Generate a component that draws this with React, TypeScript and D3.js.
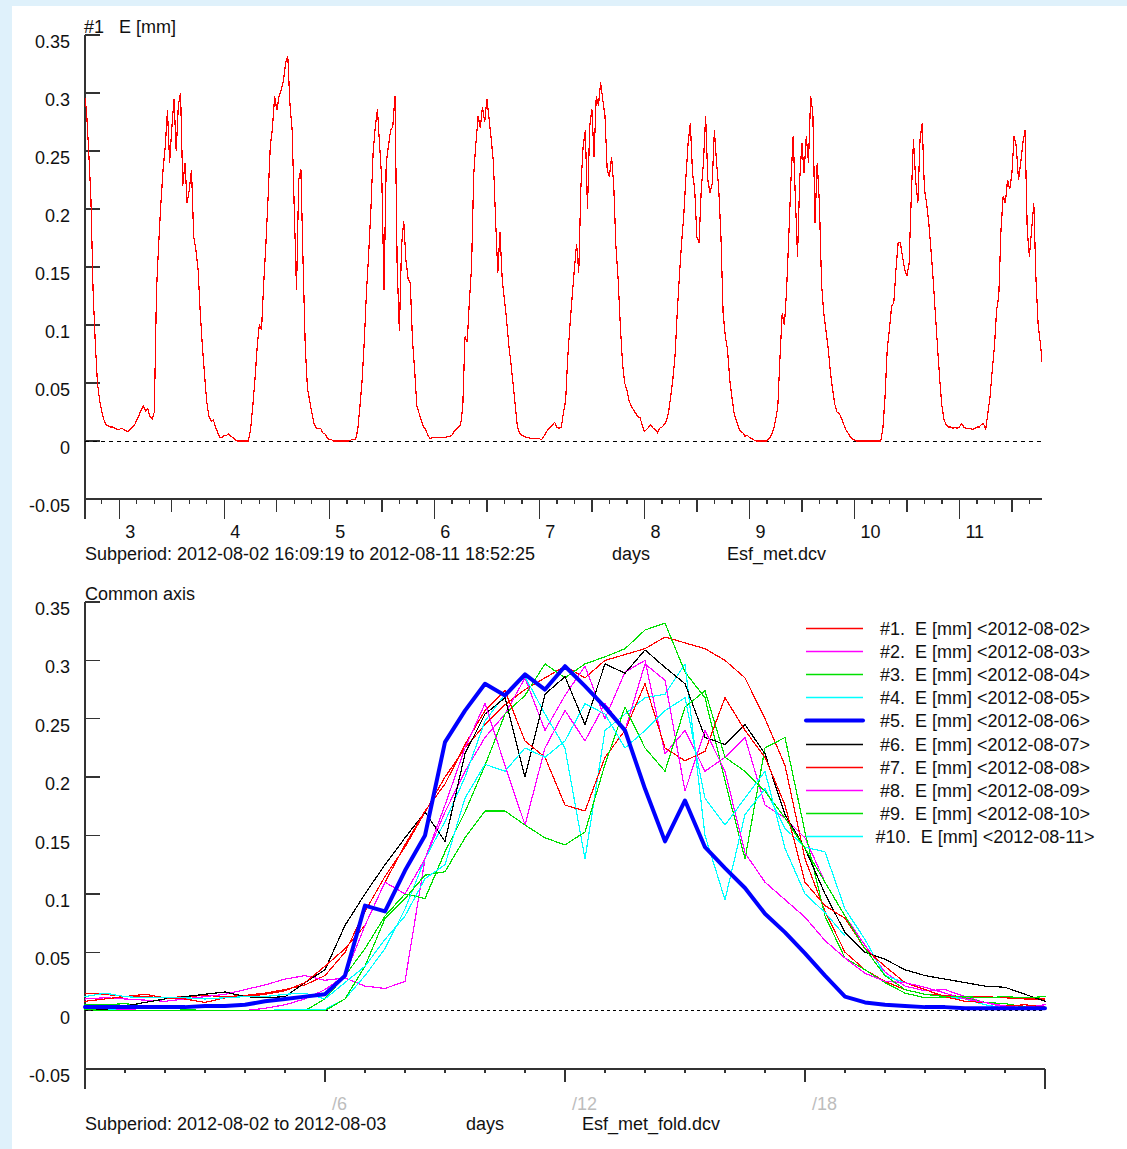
import React from 'react';
import * as d3 from 'd3';

// ---------- data ----------
const DAY_LABELS = ['2012-08-02', '2012-08-03', '2012-08-04', '2012-08-05', '2012-08-06', '2012-08-07', '2012-08-08', '2012-08-09', '2012-08-10', '2012-08-11'];
const DAY_NUMBERS = [2, 3, 4, 5, 6, 7, 8, 9, 10, 11];
const SERIES_COLORS = ['#ff0000', '#ff00ff', '#00e000', '#00ffff', '#0000ff', '#000000', '#ff0000', '#ff00ff', '#00e000', '#00ffff'];
const SERIES_WIDTHS = [1, 1, 1, 1, 4, 1, 1, 1, 1, 1];
// half-hourly time of day (hours)
const HOURS = [0, 0.5, 1, 1.5, 2, 2.5, 3, 3.5, 4, 4.5, 5, 5.5, 6, 6.5, 7, 7.5, 8, 8.5, 9, 9.5, 10, 10.5, 11, 11.5, 12, 12.5, 13, 13.5, 14, 14.5, 15, 15.5, 16, 16.5, 17, 17.5, 18, 18.5, 19, 19.5, 20, 20.5, 21, 21.5, 22, 22.5, 23, 23.5];

const E1 = [0.015, 0.014, 0.012, 0.012, 0.011, 0.012, 0.013, 0.012, 0.013, 0.015, 0.018, 0.022, 0.03, 0.05, 0.085, 0.115, 0.14, 0.17, 0.2, 0.225, 0.245, 0.262, 0.275, 0.285, 0.295, 0.285, 0.3, 0.305, 0.31, 0.32, 0.315, 0.31, 0.3, 0.285, 0.25, 0.21, 0.13, 0.085, 0.05, 0.035, 0.025, 0.018, 0.014, 0.013, 0.012, 0.012, 0.011, 0.01];
const E2 = [0.01, 0.011, 0.01, 0.009, 0.008, 0.01, 0.012, 0.014, 0.018, 0.022, 0.027, 0.03, 0.026, 0.028, 0.021, 0.019, 0.025, 0.13, 0.17, 0.205, 0.234, 0.254, 0.285, 0.24, 0.27, 0.295, 0.25, 0.29, 0.3, 0.22, 0.24, 0.205, 0.217, 0.234, 0.176, 0.165, 0.148, 0.11, 0.081, 0.056, 0.033, 0.021, 0.017, 0.018, 0.012, 0.007, 0.003, 0.003];
const E3 = [0.005, 0.005, 0.006, 0.004, 0.003, 0.001, 0, 0, 0, 0, 0, 0, 0.01, 0.03, 0.053, 0.081, 0.1, 0.096, 0.136, 0.17, 0.21, 0.254, 0.27, 0.297, 0.285, 0.297, 0.303, 0.31, 0.326, 0.332, 0.29, 0.268, 0.197, 0.13, 0.225, 0.234, 0.153, 0.081, 0.045, 0.035, 0.024, 0.015, 0.011, 0.011, 0.011, 0.007, 0.006, 0.003];
const E4 = [0.001, 0.001, 0, 0, 0, 0, 0, 0, 0, 0, 0.001, 0.001, 0.001, 0.01, 0.03, 0.053, 0.087, 0.13, 0.162, 0.2, 0.248, 0.271, 0.286, 0.254, 0.225, 0.13, 0.24, 0.254, 0.268, 0.271, 0.297, 0.15, 0.095, 0.168, 0.19, 0.156, 0.14, 0.136, 0.087, 0.061, 0.03, 0.024, 0.018, 0.012, 0.01, 0.005, 0.002, 0.003];
const E5 = [0.003, 0.003, 0.003, 0.003, 0.003, 0.003, 0.004, 0.004, 0.005, 0.008, 0.01, 0.012, 0.014, 0.03, 0.09, 0.085, 0.12, 0.15, 0.23, 0.257, 0.28, 0.27, 0.288, 0.275, 0.295, 0.278, 0.26, 0.24, 0.19, 0.145, 0.18, 0.14, 0.122, 0.105, 0.083, 0.067, 0.049, 0.03, 0.012, 0.007, 0.005, 0.004, 0.003, 0.003, 0.002, 0.002, 0.002, 0.002];
const E6 = [0.002, 0.001, 0.004, 0.007, 0.01, 0.012, 0.014, 0.016, 0.012, 0.011, 0.012, 0.024, 0.035, 0.073, 0.1, 0.125, 0.148, 0.17, 0.145, 0.22, 0.254, 0.268, 0.2, 0.271, 0.286, 0.245, 0.297, 0.289, 0.309, 0.294, 0.28, 0.234, 0.228, 0.245, 0.22, 0.168, 0.139, 0.1, 0.067, 0.05, 0.044, 0.035, 0.03, 0.027, 0.024, 0.021, 0.02, 0.014];
const E7 = [0.008, 0.01, 0.012, 0.014, 0.011, 0.01, 0.007, 0.011, 0.012, 0.014, 0.017, 0.024, 0.038, 0.053, 0.073, 0.11, 0.142, 0.171, 0.194, 0.228, 0.257, 0.274, 0.231, 0.217, 0.176, 0.171, 0.217, 0.24, 0.28, 0.225, 0.214, 0.222, 0.268, 0.24, 0.217, 0.176, 0.11, 0.09, 0.079, 0.053, 0.038, 0.024, 0.018, 0.012, 0.008, 0.007, 0.004, 0.005];
const E8 = [0.003, 0.002, 0.001, 0, 0, 0, 0, 0, 0, 0.002, 0.005, 0.01, 0.018, 0.03, 0.073, 0.11, 0.1, 0.13, 0.176, 0.225, 0.263, 0.21, 0.159, 0.225, 0.257, 0.231, 0.263, 0.24, 0.297, 0.283, 0.188, 0.24, 0.205, 0.135, 0.11, 0.095, 0.08, 0.06, 0.045, 0.032, 0.025, 0.024, 0.02, 0.015, 0.01, 0.007, 0.004, 0.002];
const E9 = [0.001, 0, 0, 0, 0, 0, 0, 0, 0, 0, 0, 0, 0, 0.01, 0.038, 0.079, 0.096, 0.116, 0.119, 0.148, 0.171, 0.171, 0.159, 0.148, 0.142, 0.153, 0.211, 0.26, 0.225, 0.205, 0.26, 0.274, 0.217, 0.205, 0.188, 0.165, 0.139, 0.11, 0.081, 0.053, 0.03, 0.018, 0.014, 0.012, 0.012, 0.011, 0.012, 0.011];
const E10 = [0.012, 0.015, 0.012, 0.011, 0.011, 0.011, 0.01, 0.011, 0.012, 0.012, 0.014, 0.015, 0.01, 0.024, 0.038, 0.061, 0.081, 0.113, 0.125, 0.182, 0.211, 0.205, 0.225, 0.217, 0.231, 0.263, 0.254, 0.225, 0.24, 0.257, 0.268, 0.182, 0.159, 0.182, 0.205, 0.139, 0.1, 0.084, 0.064, null, null, null, null, null, null, null, null, null];

const SERIES: (number | null)[][] = [E1, E2, E3, E4, E5, E6, E7, E8, E9, E10];

const Y_TICKS = [0.35, 0.3, 0.25, 0.2, 0.15, 0.1, 0.05, 0, -0.05];
const TOP_DAY_TICKS = [3, 4, 5, 6, 7, 8, 9, 10, 11];
const FOLD_LABEL_HOURS = [6, 12, 18];

// subperiod of the top chart: 2012-08-02 16:09:19 to 2012-08-11 18:52:25 (day-of-month)
const START = 2 + (16 + 9 / 60 + 19 / 3600) / 24;
const END = 11 + (18 + 52 / 60 + 25 / 3600) / 24;

const FONT = '"Liberation Sans", Arial, sans-serif';

const fmt = (v: number) => String(+v.toFixed(2));

export default function App() {
  // ---------- top chart scales ----------
  const xTop = d3.scaleLinear().domain([START, END]).range([85, 1042]);
  const yTop = d3.scaleLinear().domain([-0.05, 0.35]).range([499, 35]);

  const topPts: [number, number][] = [];
  SERIES.forEach((vals, k) => {
    vals.forEach((v, i) => {
      if (v == null) return;
      const t = DAY_NUMBERS[k] + HOURS[i] / 24;
      if (t < START - 1 / 48) return;
      topPts.push([t, v]);
    });
  });
  const topLine = d3.line<[number, number]>().x(d => xTop(d[0])).y(d => yTop(d[1]));

  // 4-hour ticks
  const topTicks: { x: number; len: number }[] = [];
  for (let n = Math.ceil(START * 6); n / 6 <= END; n++) {
    const t = n / 6;
    const r = ((n % 6) + 6) % 6;
    const len = r === 0 ? 20 : r === 3 ? 13 : 5;
    topTicks.push({ x: xTop(t), len });
  }

  // ---------- bottom chart scales ----------
  const xBot = d3.scaleLinear().domain([0, 24]).range([85, 1045]);
  const yBot = d3.scaleLinear().domain([-0.05, 0.35]).range([1069, 602]);
  const botLine = d3.line<[number, number]>().x(d => xBot(d[0])).y(d => yBot(d[1]));

  const botSeries = SERIES.map((vals, k) => {
    const pts: [number, number][] = [];
    vals.forEach((v, i) => {
      if (v != null) pts.push([HOURS[i], v]);
    });
    if (vals[vals.length - 1] != null && k < SERIES.length - 1) {
      const nxt = SERIES[k + 1][0];
      if (nxt != null) pts.push([24, nxt]);
    }
    return pts;
  });
  const drawOrder = [0, 1, 2, 3, 5, 6, 7, 8, 9, 4];

  const hourTicks = d3.range(1, 24);

  return (
    <div style={{ position: 'absolute', left: 0, top: 0, width: 1127, height: 1149 }}>
      <svg width={1127} height={1149} style={{ display: 'block' }} fontFamily={FONT} fontSize={18}>
        <rect x={0} y={0} width={1127} height={1149} fill="#dff1fb" />
        <rect x={12} y={6} width={1115} height={1143} fill="#ffffff" />
        <defs>
          <clipPath id="clipTop">
            <rect x={85} y={0} width={1042 - 85} height={560} />
          </clipPath>
        </defs>

        {/* ===== TOP CHART ===== */}
        <text x={84} y={32.5} fill="#111">#1</text>
        <text x={119} y={32.5} fill="#111">E [mm]</text>
        <g shapeRendering="crispEdges" stroke="#333" strokeWidth={1.3}>
          <line x1={85} y1={yTop(0.35)} x2={85} y2={519} />
          <line x1={85} y1={yTop(-0.05)} x2={1042} y2={yTop(-0.05)} />
          {Y_TICKS.filter(v => v > -0.05).map(v => (
            <line key={'yt' + v} x1={85} x2={100} y1={yTop(v)} y2={yTop(v)} />
          ))}
          {topTicks.map((t, i) => (
            <line key={'xt' + i} x1={t.x} x2={t.x} y1={yTop(-0.05)} y2={yTop(-0.05) + t.len} />
          ))}
        </g>
        {Y_TICKS.map(v => (
          <text key={'yl' + v} x={70} y={yTop(v) + 13} textAnchor="end" fill="#111">{fmt(v)}</text>
        ))}
        {TOP_DAY_TICKS.map(d => (
          <text key={'dl' + d} x={xTop(d) + 6} y={538} fill="#111">{d}</text>
        ))}
        <line x1={85} x2={1042} y1={yTop(0)} y2={yTop(0)} stroke="#000" strokeDasharray="4,4" shapeRendering="crispEdges" />
        <path d={topLine(topPts) || ''} fill="none" stroke="#ff0000" strokeWidth={1.2} clipPath="url(#clipTop)" shapeRendering="crispEdges" />
        <text x={85} y={560} fill="#111">Subperiod: 2012-08-02 16:09:19 to 2012-08-11 18:52:25</text>
        <text x={612} y={560} fill="#111">days</text>
        <text x={727} y={560} fill="#111">Esf_met.dcv</text>

        {/* ===== BOTTOM CHART ===== */}
        <text x={85} y={600} fill="#111">Common axis</text>
        <g shapeRendering="crispEdges" stroke="#333" strokeWidth={1.3}>
          <line x1={85} y1={yBot(0.35)} x2={85} y2={1089} />
          <line x1={85} y1={yBot(-0.05)} x2={1045} y2={yBot(-0.05)} />
          <line x1={1045} y1={yBot(-0.05)} x2={1045} y2={1089} />
          {Y_TICKS.filter(v => v > -0.05).map(v => (
            <line key={'byt' + v} x1={85} x2={100} y1={yBot(v)} y2={yBot(v)} />
          ))}
          {hourTicks.map(h => (
            <line key={'bxt' + h} x1={xBot(h)} x2={xBot(h)} y1={yBot(-0.05)} y2={yBot(-0.05) + (h % 6 === 0 ? 13 : 4)} />
          ))}
        </g>
        {Y_TICKS.map(v => (
          <text key={'byl' + v} x={70} y={yBot(v) + 13} textAnchor="end" fill="#111">{fmt(v)}</text>
        ))}
        {FOLD_LABEL_HOURS.map(h => (
          <text key={'fl' + h} x={xBot(h) + 7} y={1110} fill="#bdbdbd">{'/' + h}</text>
        ))}
        <line x1={85} x2={1045} y1={yBot(0)} y2={yBot(0)} stroke="#000" strokeDasharray="3,3" shapeRendering="crispEdges" />
        {drawOrder.map(k => (
          <path
            key={'bs' + k}
            d={botLine(botSeries[k]) || ''}
            fill="none"
            stroke={SERIES_COLORS[k]}
            strokeWidth={SERIES_WIDTHS[k] === 1 ? 1.2 : SERIES_WIDTHS[k]}
            strokeLinejoin="round"
            strokeLinecap="round"
            shapeRendering={SERIES_WIDTHS[k] === 1 ? 'crispEdges' : 'auto'}
          />
        ))}
        {/* legend */}
        {DAY_LABELS.map((lab, k) => {
          const y = Math.round(628 + k * 23.1) + 0.5;
          return (
            <g key={'lg' + k}>
              <line x1={806} x2={863} y1={y} y2={y} stroke={SERIES_COLORS[k]} strokeWidth={SERIES_WIDTHS[k] === 1 ? 1.4 : 4} strokeLinecap={k === 4 ? 'round' : 'butt'} />
              <text x={985} y={y + 6.5} textAnchor="middle" fill="#111" style={{ whiteSpace: 'pre' }}>{`#${k + 1}.  E [mm] <${lab}>`}</text>
            </g>
          );
        })}
        <text x={85} y={1130} fill="#111">Subperiod: 2012-08-02 to 2012-08-03</text>
        <text x={466} y={1130} fill="#111">days</text>
        <text x={582} y={1130} fill="#111">Esf_met_fold.dcv</text>
      </svg>
    </div>
  );
}
